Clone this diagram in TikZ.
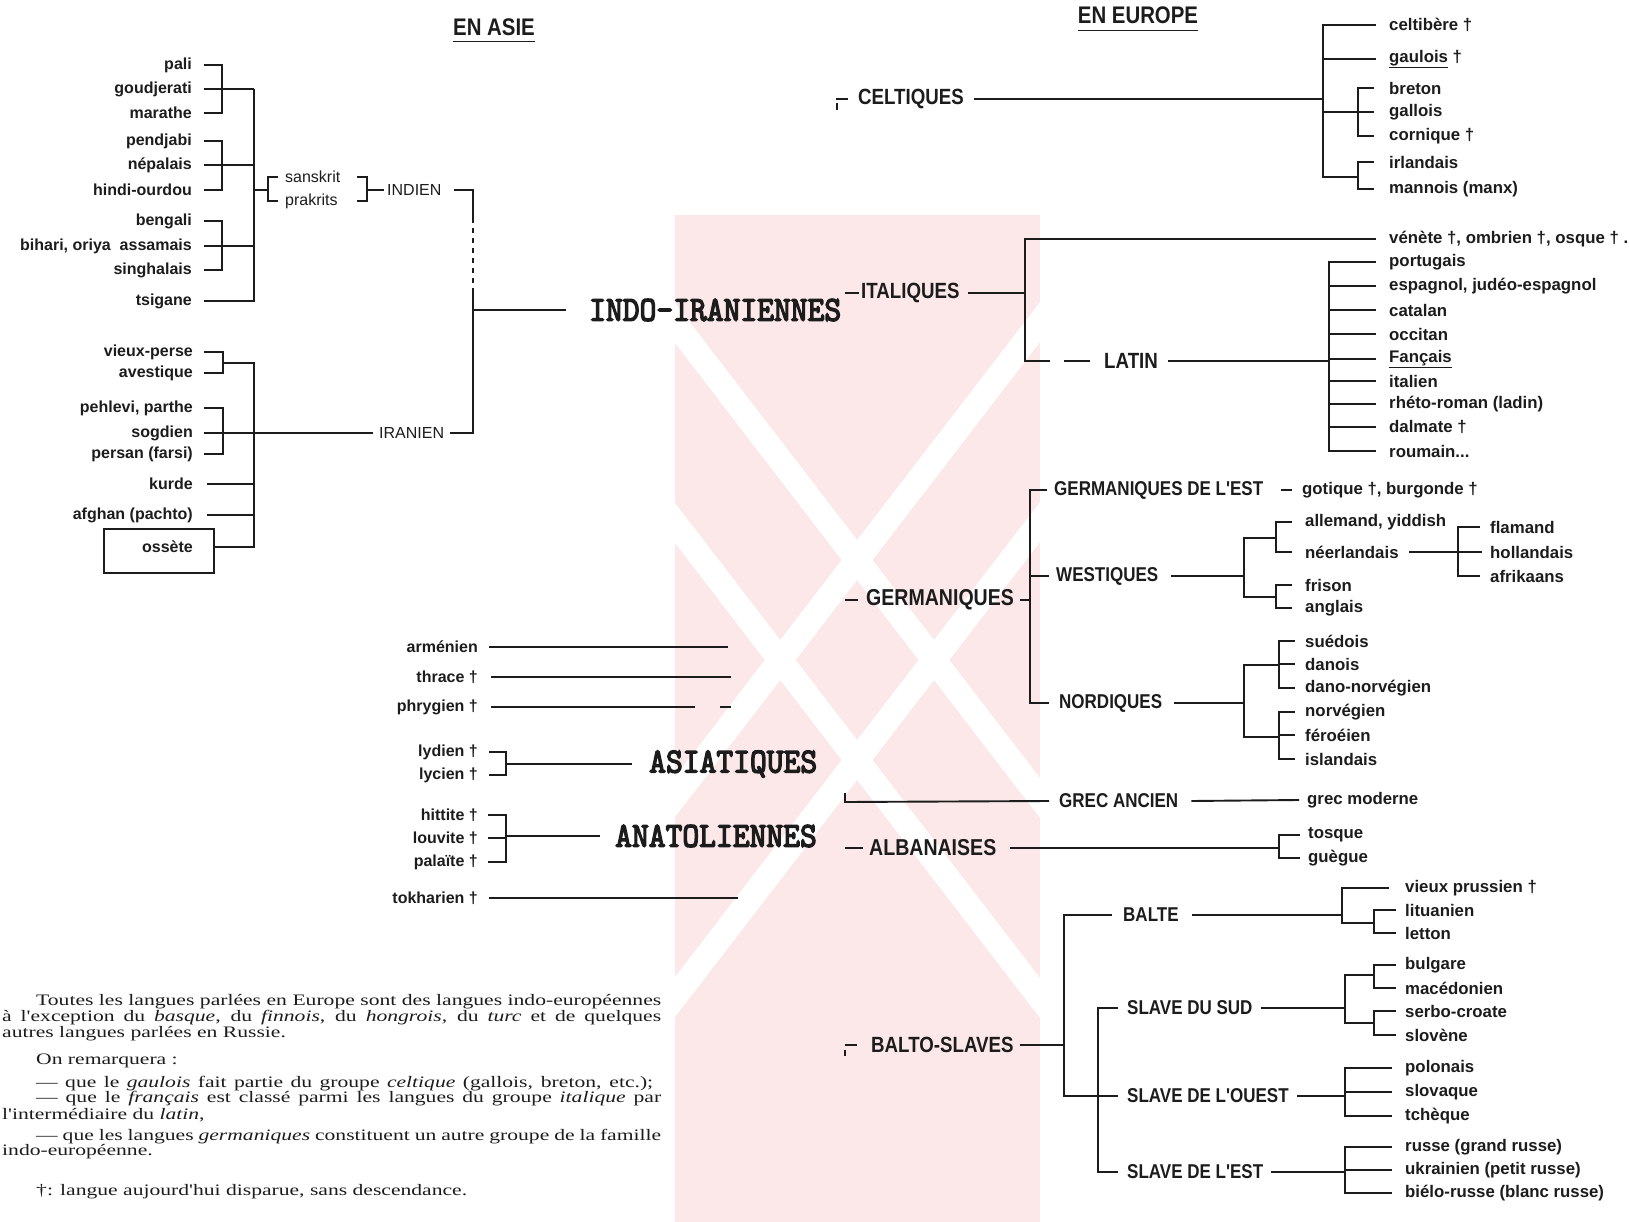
\documentclass[tikz,border=0pt]{standalone}
\usepackage{fontspec}
\usepackage{graphicx}
\setmainfont{Liberation Serif}
\newfontfamily\labf{Liberation Sans}
\newfontfamily\grpf[FakeStretch=0.85]{Liberation Sans}
\newfontfamily\monof[Extension=.otf,FakeBold=4]{lmmono10-regular}
\newfontfamily\bodyf[FakeStretch=1.35]{Liberation Serif}
\usetikzlibrary{calc}
\definecolor{ink}{RGB}{28,28,28}
\definecolor{wmark}{RGB}{252,232,232}
\begin{document}
\begin{tikzpicture}[x=1pt,y=-1pt,
  lnk/.style={draw=ink,line width=1.9pt,line cap=butt},
  asLab/.style={anchor=east,inner sep=0pt,text=ink,font=\labf\bfseries\fontsize{16}{17}\selectfont},
  anLab/.style={anchor=east,inner sep=0pt,text=ink,font=\labf\bfseries\fontsize{16}{17}\selectfont},
  euLab/.style={anchor=west,inner sep=0pt,text=ink,font=\labf\bfseries\fontsize{16.8}{18}\selectfont},
  grpLab/.style={anchor=west,inner sep=0pt,text=ink,font=\grpf\bfseries\fontsize{22}{24}\selectfont},
  subLab/.style={anchor=west,inner sep=0pt,text=ink,font=\grpf\bfseries\fontsize{20}{22}\selectfont},
  regLab/.style={anchor=west,inner sep=0pt,text=ink,font=\labf\fontsize{16}{17}\selectfont},
  bigLab/.style={anchor=west,inner sep=0pt,text=ink,font=\monof\fontsize{32}{34}\selectfont},
  headLab/.style={inner sep=0pt,text=ink,font=\grpf\bfseries\fontsize{24}{26}\selectfont},
  bodyTxt/.style={anchor=west,inner sep=0pt,text=ink,font=\bodyf\fontsize{16}{17}\selectfont},
  ossBox/.style={draw=ink,line width=1.9pt,minimum width=110pt,minimum height=44pt,inner sep=0pt}
]
\useasboundingbox (0,0) rectangle (1629,1222);
\fill[white] (0,0) rectangle (1629,1222);

% ---------- watermark ----------
\fill[wmark] (675,215) rectangle (1040,1222);
\fill[white] (675,303) -- (675,343) -- (1040,818) -- (1040,778) -- cycle;
\fill[white] (675,503) -- (675,543) -- (1040,1018) -- (1040,978) -- cycle;
\fill[white] (675,777) -- (675,817) -- (1040,342) -- (1040,302) -- cycle;
\fill[white] (675,977) -- (675,1017) -- (1040,542) -- (1040,502) -- cycle;

% ---------- headers ----------
\node[headLab] (easie) at (494,27) {EN ASIE};
\draw[lnk,line width=1.5pt] ([yshift=-6pt]easie.south west) -- ([yshift=-6pt]easie.south east);
\node[headLab] (eneur) at (1138,15) {EN EUROPE};
\draw[lnk,line width=1.5pt] ([yshift=-7pt]eneur.south west) -- ([yshift=-7pt]eneur.south east);

% ---------- indien ----------
\coordinate (xIa) at (222,0);
\coordinate (xIm) at (254,0);
\node[asLab] (pali) at (192,65) {pali};
\node[asLab] (goud) at (192,89) {goudjerati};
\node[asLab] (mara) at (192,113) {marathe};
\node[asLab] (pend) at (192,141) {pendjabi};
\node[asLab] (nepa) at (192,165) {népalais};
\node[asLab] (hind) at (192,190) {hindi-ourdou};
\node[asLab] (beng) at (192,221) {bengali};
\node[asLab] (biha) at (192,246) {bihari, oriya \ assamais};
\node[asLab] (sing) at (192,270) {singhalais};
\node[asLab] (tsig) at (192,301) {tsigane};
\draw[lnk] ([xshift=12pt]pali.east) -- (pali -| xIa) -- (mara -| xIa) -- ([xshift=12pt]mara.east);
\draw[lnk] ([xshift=12pt]pend.east) -- (pend -| xIa) -- (hind -| xIa) -- ([xshift=12pt]hind.east);
\draw[lnk] ([xshift=12pt]beng.east) -- (beng -| xIa) -- (sing -| xIa) -- ([xshift=12pt]sing.east);
\draw[lnk] ([xshift=12pt]goud.east) -- (goud -| xIm);
\draw[lnk] ([xshift=12pt]nepa.east) -- (nepa -| xIm);
\draw[lnk] ([xshift=12pt]biha.east) -- (biha -| xIm);
\draw[lnk] ([xshift=12pt]tsig.east) -- (tsig -| xIm) -- (goud -| xIm);

\node[regLab] (sans) at (285,177) {sanskrit};
\node[regLab] (prak) at (285,201) {prakrits};
\coordinate (xSl) at (268,0);
\coordinate (xSs) at (357,0);
\coordinate (xSr) at (367,0);
\draw[lnk] ([xshift=-7pt]sans.west) -- (sans -| xSl) -- (prak -| xSl) -- ([xshift=-7pt]prak.west);
\draw[lnk] (sans -| xSs) -- (sans -| xSr) -- (prak -| xSr) -- (prak -| xSs);
\draw[lnk] (hind -| xIm) -- (hind -| xSl);
\node[regLab] (indien) at (387,190) {INDIEN};
\node[regLab] (iranien) at (379,433) {IRANIEN};
\draw[lnk] (indien -| xSr) -- ([xshift=-3pt]indien.west);
\coordinate (xII) at (473,0);
\coordinate (kI1) at (473,218);
\coordinate (kI2) at (473,292);
\draw[lnk] ([xshift=12pt]indien.east) -- (indien -| xII) -- (kI1);
\draw[lnk,line width=1.2pt,dash pattern=on 5pt off 5pt] (kI1) -- (kI2);
\draw[lnk] (kI2) -- (iranien -| xII) -- ([xshift=6pt]iranien.east);

\node[bigLab] (indoir) at (589,310) {\scalebox{1}[1.1]{INDO-IRANIENNES}};
\draw[lnk] (indoir -| xII) -- ([xshift=-23pt]indoir.west);

% ---------- iranien ----------
\coordinate (xRa) at (223,0);
\coordinate (xRm) at (254,0);
\node[asLab] (vieu) at (193,352) {vieux-perse};
\node[asLab] (aves) at (193,373) {avestique};
\node[asLab] (pehl) at (193,408) {pehlevi, parthe};
\node[asLab] (sogd) at (193,433) {sogdien};
\node[asLab] (pers) at (193,454) {persan (farsi)};
\node[asLab] (kurd) at (193,484) {kurde};
\node[asLab] (afgh) at (193,515) {afghan (pachto)};
\node[ossBox] (ossbox) at (159,551) {};
\node[asLab] (osse) at (193,547) {ossète};
\coordinate (jRa) at (223,363);
\draw[lnk] ([xshift=11pt]vieu.east) -- (vieu -| xRa) -- (aves -| xRa) -- ([xshift=11pt]aves.east);
\draw[lnk] (jRa) -- (jRa -| xRm) -- (osse -| xRm) -- (osse -| ossbox.east);
\draw[lnk] ([xshift=11pt]pehl.east) -- (pehl -| xRa) -- (pers -| xRa) -- ([xshift=11pt]pers.east);
\draw[lnk] ([xshift=11pt]sogd.east) -- ([xshift=-6pt]iranien.west);
\draw[lnk] ([xshift=14pt]kurd.east) -- (kurd -| xRm);
\draw[lnk] ([xshift=14pt]afgh.east) -- (afgh -| xRm);

% ---------- anatolie / asie ----------
\coordinate (xAb) at (506,0);
\node[anLab] (arme) at (478,647) {arménien};
\node[anLab] (thra) at (478,677) {thrace †};
\node[anLab] (phry) at (478,707) {phrygien †};
\node[anLab] (lydi) at (478,752) {lydien †};
\node[anLab] (lyci) at (478,775) {lycien †};
\node[anLab] (hitt) at (478,815) {hittite †};
\node[anLab] (louv) at (478,838) {louvite †};
\node[anLab] (pala) at (478,862) {palaïte †};
\node[anLab] (tokh) at (478,898) {tokharien †};
\node[bigLab] (asia) at (649,764) {\scalebox{1}[1.1]{ASIATIQUES}};
\node[bigLab] (anat) at (615,836) {\scalebox{1}[1.1]{ANATOLIENNES}};
\draw[lnk] ([xshift=11pt]arme.east) -- ++(239,0);
\draw[lnk] ([xshift=13pt]thra.east) -- ++(240,0);
\draw[lnk] ([xshift=13pt]phry.east) -- ++(204,0);
\draw[lnk] ([xshift=242pt]phry.east) -- ++(11,0);
\draw[lnk] ([xshift=11pt]lydi.east) -- (lydi -| xAb) -- (lyci -| xAb) -- ([xshift=11pt]lyci.east);
\draw[lnk] (asia -| xAb) -- ([xshift=-17pt]asia.west);
\draw[lnk] ([xshift=10pt]hitt.east) -- (hitt -| xAb) -- (pala -| xAb) -- ([xshift=10pt]pala.east);
\draw[lnk] ([xshift=10pt]louv.east) -- (louv -| xAb);
\draw[lnk] (anat -| xAb) -- ([xshift=-15pt]anat.west);
\draw[lnk] ([xshift=11pt]tokh.east) -- ++(249,0);

% ---------- celtiques ----------
\node[grpLab] (celt) at (858,99) {CELTIQUES};
\draw[lnk] ([xshift=-22pt]celt.west) -- ([xshift=-10pt]celt.west);
\draw[lnk,line width=1.2pt] ([xshift=-21pt,yshift=-4pt]celt.west) -- ++(0,7);
\coordinate (xC) at (1323,0);
\coordinate (xCs) at (1358,0);
\node[euLab] (celb) at (1389,25) {celtibère †};
\node[euLab] (gaul) at (1389,59) {\underline{gaulois} †};
\node[euLab] (bret) at (1389,88) {breton};
\node[euLab] (gall) at (1389,112) {gallois};
\node[euLab] (corn) at (1389,136) {cornique †};
\node[euLab] (irla) at (1389,162) {irlandais};
\node[euLab] (mann) at (1389,189) {mannois (manx)};
\coordinate (jC2) at (1323,177);
\draw[lnk] ([xshift=10pt]celt.east) -- (celt -| xC);
\draw[lnk] ([xshift=-13pt]celb.west) -- (celb -| xC) -- (jC2) -- (jC2 -| xCs);
\draw[lnk] ([xshift=-13pt]gaul.west) -- (gaul -| xC);
\draw[lnk] (gall -| xC) -- (gall -| xCs);
\draw[lnk] ([xshift=-15pt]bret.west) -- (bret -| xCs) -- (corn -| xCs) -- ([xshift=-15pt]corn.west);
\draw[lnk] ([xshift=-15pt]gall.west) -- (gall -| xCs);
\draw[lnk] ([xshift=-15pt]irla.west) -- (irla -| xCs) -- (mann -| xCs) -- ([xshift=-15pt]mann.west);

% ---------- italiques ----------
\node[grpLab] (ital) at (861,293) {ITALIQUES};
\draw[lnk] ([xshift=-16pt]ital.west) -- ([xshift=-2pt]ital.west);
\coordinate (xIt) at (1025,0);
\coordinate (xL) at (1329,0);
\node[euLab] (vene) at (1389,239) {vénète †, ombrien †, osque † .};
\node[grpLab] (lat) at (1104,361) {LATIN};
\draw[lnk] ([xshift=8pt]ital.east) -- (ital -| xIt);
\draw[lnk] ([xshift=-13pt]vene.west) -- (vene -| xIt) -- (lat -| xIt) -- ++(25,0);
\draw[lnk] ([xshift=-40pt]lat.west) -- ([xshift=-14pt]lat.west);
\draw[lnk] ([xshift=10pt]lat.east) -- (lat -| xL);
\node[euLab] (port) at (1389,262) {portugais};
\node[euLab] (espa) at (1389,286) {espagnol, judéo-espagnol};
\node[euLab] (cata) at (1389,310) {catalan};
\node[euLab] (occi) at (1389,334) {occitan};
\node[euLab] (fran) at (1389,359) {\underline{Fançais}};
\node[euLab] (itali) at (1389,381) {italien};
\node[euLab] (rhet) at (1389,404) {rhéto-roman (ladin)};
\node[euLab] (dalm) at (1389,427) {dalmate †};
\node[euLab] (roum) at (1389,451) {roumain...};
\draw[lnk] ([xshift=-13pt]port.west) -- (port -| xL) -- (roum -| xL) -- ([xshift=-13pt]roum.west);
\foreach \n in {espa,cata,occi,fran,itali,rhet,dalm}
  \draw[lnk] ([xshift=-13pt]\n.west) -- (\n -| xL);

% ---------- germaniques ----------
\node[grpLab,font=\grpf\bfseries\fontsize{23}{25}\selectfont] (germ) at (866,600) {GERMANIQUES};
\draw[lnk] ([xshift=-21pt]germ.west) -- ([xshift=-8pt]germ.west);
\coordinate (xG) at (1030,0);
\node[subLab] (gest) at (1054,490) {GERMANIQUES DE L'EST};
\node[euLab] (goti) at (1302,490) {gotique †, burgonde †};
\node[subLab] (west) at (1056,576) {WESTIQUES};
\node[subLab] (nord) at (1059,703) {NORDIQUES};
\draw[lnk] ([xshift=6pt]germ.east) -- (germ -| xG);
\draw[lnk] ([xshift=-7pt]gest.west) -- (gest -| xG) -- (nord -| xG) -- ([xshift=-10pt]nord.west);
\draw[lnk] ([xshift=-7pt]west.west) -- (west -| xG);
\draw[lnk] ([xshift=18pt]gest.east) -- ([xshift=-10pt]goti.west);
\coordinate (xW) at (1244,0);
\coordinate (xWs) at (1276,0);
\coordinate (jW1) at (1244,538);
\coordinate (jW2) at (1244,597);
\node[euLab] (alle) at (1305,522) {allemand, yiddish};
\node[euLab] (neer) at (1305,552) {néerlandais};
\node[euLab] (fris) at (1305,585) {frison};
\node[euLab] (angl) at (1305,608) {anglais};
\draw[lnk] ([xshift=13pt]west.east) -- (west -| xW);
\draw[lnk] (jW1 -| xWs) -- (jW1) -- (jW2) -- (jW2 -| xWs);
\draw[lnk] ([xshift=-13pt]alle.west) -- (alle -| xWs) -- (neer -| xWs) -- ([xshift=-13pt]neer.west);
\draw[lnk] ([xshift=-13pt]fris.west) -- (fris -| xWs) -- (angl -| xWs) -- ([xshift=-13pt]angl.west);
\coordinate (xD) at (1458,0);
\node[euLab] (flam) at (1490,527) {flamand};
\node[euLab] (holl) at (1490,552) {hollandais};
\node[euLab] (afri) at (1490,576) {afrikaans};
\draw[lnk] ([xshift=10pt]neer.east) -- ([xshift=-8pt]holl.west);
\draw[lnk] ([xshift=-10pt]flam.west) -- (flam -| xD) -- (afri -| xD) -- ([xshift=-10pt]afri.west);
\coordinate (xNs) at (1279,0);
\coordinate (jN1) at (1244,665);
\coordinate (jN2) at (1244,737);
\node[euLab] (sued) at (1305,641) {suédois};
\node[euLab] (dano) at (1305,664) {danois};
\node[euLab] (dnno) at (1305,688) {dano-norvégien};
\node[euLab] (norv) at (1305,712) {norvégien};
\node[euLab] (fero) at (1305,735) {féroéien};
\node[euLab] (isla) at (1305,759) {islandais};
\draw[lnk] ([xshift=12pt]nord.east) -- (nord -| xW);
\draw[lnk] (jN1 -| xNs) -- (jN1) -- (jN2) -- (jN2 -| xNs);
\draw[lnk] ([xshift=-10pt]sued.west) -- (sued -| xNs) -- (dnno -| xNs) -- ([xshift=-10pt]dnno.west);
\draw[lnk] ([xshift=-10pt]dano.west) -- (dano -| xNs);
\draw[lnk] ([xshift=-10pt]norv.west) -- (norv -| xNs) -- (isla -| xNs) -- ([xshift=-10pt]isla.west);
\draw[lnk] ([xshift=-10pt]fero.west) -- (fero -| xNs);

% ---------- grec ----------
\node[subLab] (grec) at (1059,801) {GREC ANCIEN};
\node[euLab] (grmo) at (1307,800) {grec moderne};
\coordinate (gT) at (845,802);
\draw[lnk] ([yshift=9pt]gT) -- (gT) -- ([xshift=-10pt]grec.west);
\draw[lnk] ([xshift=13pt]grec.east) -- ([xshift=-8pt]grmo.west);

% ---------- albanaises ----------
\node[grpLab,font=\grpf\bfseries\fontsize{23}{25}\selectfont] (alba) at (869,848) {ALBANAISES};
\draw[lnk] ([xshift=-24pt]alba.west) -- ([xshift=-6pt]alba.west);
\coordinate (xAl) at (1279,0);
\node[euLab] (tosq) at (1308,835) {tosque};
\node[euLab] (gueg) at (1308,858) {guègue};
\draw[lnk] ([xshift=13pt]alba.east) -- (alba -| xAl);
\draw[lnk] ([xshift=-8pt]tosq.west) -- (tosq -| xAl) -- (gueg -| xAl) -- ([xshift=-8pt]gueg.west);

% ---------- balto-slaves ----------
\node[grpLab] (bsl) at (871,1045) {BALTO-SLAVES};
\draw[lnk] ([xshift=-26pt]bsl.west) -- ([xshift=-14pt]bsl.west);
\draw[lnk,line width=1.2pt] ([xshift=-26pt,yshift=-5pt]bsl.west) -- ++(0,6);
\coordinate (xB) at (1064,0);
\coordinate (xS) at (1098,0);
\node[subLab] (balte) at (1123,915) {BALTE};
\node[subLab] (sds) at (1127,1008) {SLAVE DU SUD};
\node[subLab] (sdo) at (1127,1096) {SLAVE DE L'OUEST};
\node[subLab] (sde) at (1127,1172) {SLAVE DE L'EST};
\draw[lnk] ([xshift=6pt]bsl.east) -- (bsl -| xB);
\draw[lnk] ([xshift=-11pt]balte.west) -- (balte -| xB) -- (sdo -| xB) -- ([xshift=-9pt]sdo.west);
\draw[lnk] ([xshift=-9pt]sds.west) -- (sds -| xS) -- (sde -| xS) -- ([xshift=-9pt]sde.west);
\coordinate (xBa) at (1342,0);
\coordinate (xBs) at (1374,0);
\coordinate (jBa) at (1342,923);
\node[euLab] (vpru) at (1405,888) {vieux prussien †};
\node[euLab] (litu) at (1405,910) {lituanien};
\node[euLab] (lett) at (1405,933) {letton};
\draw[lnk] ([xshift=13pt]balte.east) -- (balte -| xBa);
\draw[lnk] ([xshift=-16pt]vpru.west) -- (vpru -| xBa) -- (jBa) -- (jBa -| xBs);
\draw[lnk] ([xshift=-9pt]litu.west) -- (litu -| xBs) -- (lett -| xBs) -- ([xshift=-9pt]lett.west);
\coordinate (xSS) at (1345,0);
\coordinate (xSSs) at (1374,0);
\coordinate (jS1) at (1345,975);
\coordinate (jS2) at (1345,1023);
\node[euLab] (bulg) at (1405,965) {bulgare};
\node[euLab] (mace) at (1405,988) {macédonien};
\node[euLab] (serb) at (1405,1011) {serbo-croate};
\node[euLab] (slov) at (1405,1035) {slovène};
\draw[lnk] ([xshift=8pt]sds.east) -- (sds -| xSS);
\draw[lnk] (jS1 -| xSSs) -- (jS1) -- (jS2) -- (jS2 -| xSSs);
\draw[lnk] ([xshift=-9pt]bulg.west) -- (bulg -| xSSs) -- (mace -| xSSs) -- ([xshift=-9pt]mace.west);
\draw[lnk] ([xshift=-9pt]serb.west) -- (serb -| xSSs) -- (slov -| xSSs) -- ([xshift=-9pt]slov.west);
\node[euLab] (polo) at (1405,1068) {polonais};
\node[euLab] (slvq) at (1405,1092) {slovaque};
\node[euLab] (tche) at (1405,1116) {tchèque};
\draw[lnk] ([xshift=8pt]sdo.east) -- (sdo -| xSS);
\draw[lnk] ([xshift=-13pt]polo.west) -- (polo -| xSS) -- (tche -| xSS) -- ([xshift=-13pt]tche.west);
\draw[lnk] ([xshift=-13pt]slvq.west) -- (slvq -| xSS);
\node[euLab] (russ) at (1405,1147) {russe (grand russe)};
\node[euLab] (ukra) at (1405,1170) {ukrainien (petit russe)};
\node[euLab] (biel) at (1405,1193) {biélo-russe (blanc russe)};
\draw[lnk] ([xshift=8pt]sde.east) -- (sde -| xSS);
\draw[lnk] ([xshift=-13pt]russ.west) -- (russ -| xSS) -- (biel -| xSS) -- ([xshift=-13pt]biel.west);
\draw[lnk] ([xshift=-13pt]ukra.west) -- (ukra -| xSS);

% ---------- texte ----------
\node[bodyTxt] (t1) at (36,1002) {\makebox[625pt][s]{Toutes les langues parlées en Europe sont des langues indo-européennes}};
\node[bodyTxt] (t2) at (2,1018) {\makebox[659pt][s]{à l'exception du \textit{basque}, du \textit{finnois}, du \textit{hongrois}, du \textit{turc} et de quelques}};
\node[bodyTxt] (t3) at (2,1034) {autres langues parlées en Russie.};
\node[bodyTxt] (t4) at (36,1061) {On remarquera :};
\node[bodyTxt] (t5) at (36,1084) {\makebox[617pt][s]{— que le \textit{gaulois} fait partie du groupe \textit{celtique} (gallois, breton, etc.);}};
\node[bodyTxt] (t6) at (36,1099) {\makebox[625pt][s]{— que le \textit{français} est classé parmi les langues du groupe \textit{italique} par}};
\node[bodyTxt] (t7) at (2,1115) {l'intermédiaire du \textit{latin},};
\node[bodyTxt] (t8) at (36,1137) {\makebox[625pt][s]{— que les langues \textit{germaniques} constituent un autre groupe de la famille}};
\node[bodyTxt] (t9) at (2,1152) {indo-européenne.};
\node[bodyTxt] (t10) at (36,1192) {†: langue aujourd'hui disparue, sans descendance.};
\end{tikzpicture}
\end{document}
